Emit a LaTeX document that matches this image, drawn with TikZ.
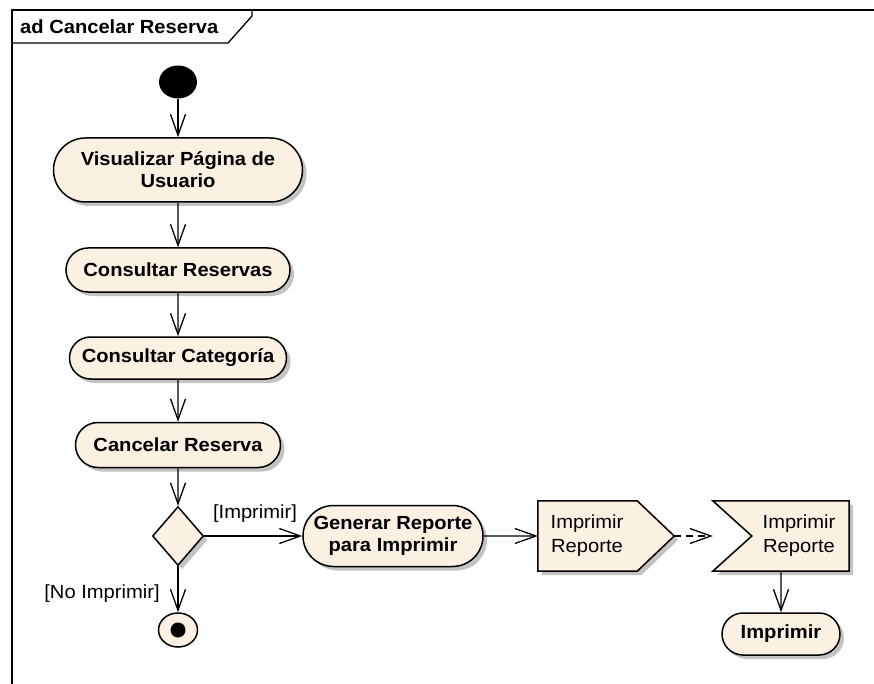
\documentclass[tikz,border=0pt]{standalone}
\usepackage{fontspec}
\setmainfont{Liberation Sans}[FakeStretch=1.06]
\usetikzlibrary{arrows.meta,shapes.geometric,shapes.misc,shadows,calc}
\definecolor{cream}{RGB}{251,241,226}
\definecolor{shad}{RGB}{195,195,195}
\begin{document}
\begin{tikzpicture}[x=1pt,y=-1pt,
  shd/.style={drop shadow={shadow xshift=4pt,shadow yshift=-4pt,fill=shad,opacity=1}},
  act/.style={rounded rectangle, draw=black, line width=1.5pt, fill=cream, shd,
    font=\bfseries\fontsize{19}{22}\selectfont, align=center, inner sep=0pt},
  flow/.style={line width=1.3pt, -{Straight Barb[length=21pt,width=15pt]}},
  lbl/.style={font=\fontsize{19}{22}\selectfont, inner sep=0pt},
  sigtxt/.style={font=\fontsize{19}{24}\selectfont, align=center, inner sep=0pt},
  box/.style={draw=none, fill=none, inner sep=0pt, minimum height=70pt},
  sigshape/.style={draw=black, line width=1.5pt, fill=cream, shd, line join=miter},
]
\useasboundingbox (0,0) rectangle (874,684);
% frame
\draw[line width=1.6pt] (874,10) -- (12,10) -- (12,690);
\draw[line width=1.3pt] (12,43) -- (228,43) -- (252,16) -- (252,10);
\node[anchor=west, font=\bfseries\fontsize{19}{22}\selectfont, inner sep=0pt] (title) at (20,27) {ad Cancelar Reserva};

% nodes
\node[ellipse, fill=black, minimum width=38pt, minimum height=33pt, inner sep=0pt] (init) at (178,82) {};
\node[act, minimum width=249pt, minimum height=64pt] (vis) at (178,170) {Visualizar Página de\\Usuario};
\node[act, minimum width=224pt, minimum height=44pt] (cres) at (178,270) {Consultar Reservas};
\node[act, minimum width=217pt, minimum height=42pt] (ccat) at (178,358) {Consultar Categoría};
\node[act, minimum width=205pt, minimum height=45pt] (canc) at (178,445) {Cancelar Reserva};
\node[diamond, draw=black, line width=1.5pt, fill=cream, shd, minimum width=51pt, minimum height=59pt, inner sep=0pt] (dec) at (178,536) {};
\node[ellipse, draw=black, line width=1.5pt, fill=cream, minimum width=39pt, minimum height=34pt, inner sep=0pt] (fin) at (178,630) {};
\fill (fin.center) circle (7.5pt);
\node[act, minimum width=180pt, minimum height=61pt] (gen) at (393,536) {Generar Reporte\\para Imprimir};

% send signal
\node[box, minimum width=136pt] (send) at (606,536) {};
\path[sigshape] (send.north west) -- ($(send.north east)+(-37,0)$) -- (send.east) -- ($(send.south east)+(-37,0)$) -- (send.south west) -- cycle;
\node[sigtxt] (sendtxt) at (587,536) {Imprimir\\Reporte};

% receive signal
\node[box, minimum width=136pt] (recv) at (781,536) {};
\path[sigshape] (recv.north west) -- (recv.north east) -- (recv.south east) -- (recv.south west) -- ($(recv.west)+(39,0)$) -- cycle;
\node[sigtxt] (recvtxt) at (799,536) {Imprimir\\Reporte};

\node[act, minimum width=118pt, minimum height=42pt] (impr) at (781,634) {Imprimir};

% labels
\node[lbl] (lyes) at (255,514) {[Imprimir]};
\node[lbl] (lno) at (102,594) {[No Imprimir]};

% flows
\draw[flow] (init) -- (vis);
\draw[flow] (vis) -- (cres);
\draw[flow] (cres) -- (ccat);
\draw[flow] (ccat) -- (canc);
\draw[flow] (canc) -- (dec);
\draw[flow] (dec) -- (fin);
\draw[flow] (dec) -- (gen);
\draw[flow] (gen) -- (send.west);
\draw[flow, dash pattern=on 7pt off 5pt] (send.east) -- (recv.west);
\draw[flow] (recv.south) -- (impr);
\end{tikzpicture}
\end{document}
